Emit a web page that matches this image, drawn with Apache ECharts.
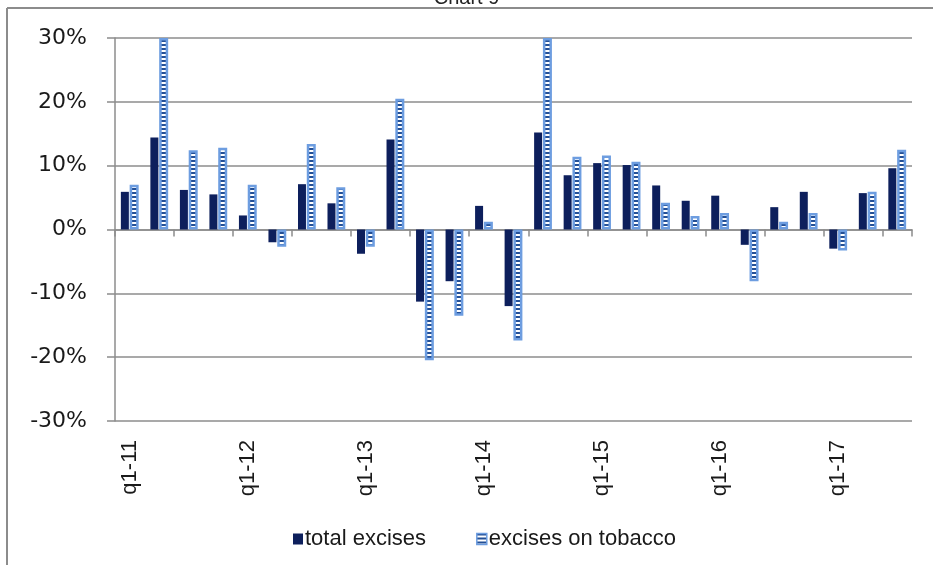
<!DOCTYPE html>
<html>
<head>
<meta charset="utf-8">
<script src="https://cdn.jsdelivr.net/npm/echarts@6/dist/echarts.min.js"></script>
<style>
html,body{margin:0;padding:0;background:#fff;}
#chart{width:933px;height:565px;}
</style>
</head>
<body>
<div id="chart"></div>
<script>
var categories = ['q1-11','q2-11','q3-11','q4-11','q1-12','q2-12','q3-12','q4-12','q1-13','q2-13','q3-13','q4-13','q1-14','q2-14','q3-14','q4-14','q1-15','q2-15','q3-15','q4-15','q1-16','q2-16','q3-16','q4-16','q1-17','q2-17','q3-17'];
var totalExcises = [5.9, 14.4, 6.2, 5.5, 2.2, -2.0, 7.1, 4.1, -3.8, 14.1, -11.3, -8.1, 3.7, -12.0, 15.2, 8.5, 10.4, 10.1, 6.9, 4.5, 5.3, -2.4, 3.5, 5.9, -3.0, 5.7, 9.6];
var tobaccoExcises = [7.0, 30, 12.4, 12.8, 7.0, -2.7, 13.4, 6.6, -2.7, 20.5, -20.5, -13.5, 1.2, -17.4, 30, 11.4, 11.6, 10.6, 4.2, 2.1, 2.6, -8.1, 1.2, 2.6, -3.3, 5.9, 12.5];
var yTicks = [-30, -20, -10, 0, 10, 20, 30];
var seriesNames = ['total excises', 'excises on tobacco'];

var pc = document.createElement('canvas');
pc.width = 4; pc.height = 4;
var pctx = pc.getContext('2d');
pctx.fillStyle = '#234f96';
pctx.fillRect(0, 0, 4, 4);
pctx.fillStyle = '#ffffff';
pctx.fillRect(0, 2, 4, 2);
var pattern = {image: pc, repeat: 'repeat'};

var chart = echarts.init(document.getElementById('chart'), null, {renderer: 'canvas'});
chart.setOption({
  animation: false,
  backgroundColor: '#ffffff',
  title: {
    text: 'Chart 9', left: 'center', top: -17,
    textStyle: {fontFamily: 'Liberation Sans', fontSize: 20, fontWeight: 'normal', color: '#222'}
  },
  graphic: [
    {type: 'line', shape: {x1: 7, y1: 8, x2: 933, y2: 8}, style: {stroke: '#8c8c8c', lineWidth: 2}},
    {type: 'line', shape: {x1: 7, y1: 8, x2: 7, y2: 565}, style: {stroke: '#8c8c8c', lineWidth: 2}}
  ],
  legend: {
    data: [
      {name: seriesNames[0], itemStyle: {color: '#0d1f5c'}},
      {name: seriesNames[1], itemStyle: {color: pattern, borderColor: '#6d9de0', borderWidth: 1.5}}
    ],
    left: 288, top: 523,
    icon: 'rect', itemWidth: 10, itemHeight: 11, itemGap: 50,
    textStyle: {fontFamily: 'Liberation Sans', fontSize: 22, color: '#1a1a1a', padding: [0, 0, 0, -3]}
  },
  grid: {left: 115, right: 21, top: 38, bottom: 144, containLabel: false},
  xAxis: [
    {
      type: 'category', data: categories, position: 'bottom',
      axisLine: {show: false, onZero: false},
      axisTick: {show: false},
      axisLabel: {
        interval: 3, rotate: 90, margin: 19,
        fontFamily: 'Liberation Sans', fontSize: 22, color: '#1a1a1a'
      },
      splitLine: {show: false}
    },
    {
      type: 'category', data: categories, position: 'top',
      axisLine: {show: true, onZero: true, lineStyle: {color: '#8c8c8c', width: 1.5}},
      axisTick: {show: true, inside: true, length: 7, lineStyle: {color: '#8c8c8c', width: 1.5}},
      axisLabel: {show: false},
      splitLine: {show: false}
    }
  ],
  yAxis: {
    type: 'value', min: yTicks[0], max: yTicks[yTicks.length - 1], interval: 10,
    axisLine: {show: true, lineStyle: {color: '#8c8c8c', width: 1.5}},
    axisTick: {show: true, length: 8, lineStyle: {color: '#8c8c8c', width: 1.5}},
    axisLabel: {
      formatter: '{value}%', margin: 28,
      fontFamily: 'DejaVu Sans', fontSize: 22, color: '#1a1a1a'
    },
    splitLine: {show: true, lineStyle: {color: '#8c8c8c', width: 1.5}}
  },
  series: [
    {
      name: seriesNames[0], type: 'bar', data: totalExcises, xAxisIndex: 0,
      barWidth: 8, barGap: '10%',
      itemStyle: {color: '#0d1f5c'}
    },
    {
      name: seriesNames[1], type: 'bar', data: tobaccoExcises, xAxisIndex: 0,
      barWidth: 9, barGap: '10%', clip: true,
      itemStyle: {color: pattern, borderColor: '#6d9de0', borderWidth: 2.5}
    }
  ]
});
</script>
</body>
</html>
